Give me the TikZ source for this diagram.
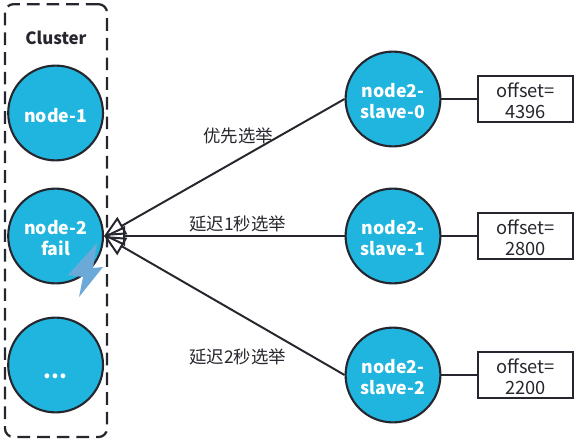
\documentclass[tikz,border=0pt]{standalone}
\usepackage{fontspec}
\setmainfont{Noto Sans CJK SC}
\usepackage{tikz}
\usetikzlibrary{arrows.meta}
\definecolor{nodeblue}{HTML}{20B5DE}
\definecolor{linedark}{HTML}{26262E}
\definecolor{boltblue}{HTML}{6BAAD8}
\tikzset{
    circ/.style={circle, draw=linedark, line width=1.5pt, fill=nodeblue, minimum size=2.37cm, inner sep=0pt, align=center, text=white, font=\fontsize{12.6}{15.5}\bfseries\selectfont},
    offs/.style={rectangle, draw=linedark, line width=1.4pt, fill=white, minimum width=2.375cm, minimum height=1.15cm, inner sep=0pt, align=center, text=linedark, font=\fontsize{13}{15}\selectfont},
    lab/.style={text=linedark, font=\fontsize{12.4}{14}\selectfont},
    conn/.style={draw=linedark, line width=1.4pt},
    vote/.style={conn, -{Triangle[open, length=15pt, width=14pt, line width=1.4pt]}}
}
\begin{document}
\begin{tikzpicture}
    \useasboundingbox (0, 0) rectangle (14.5, 11.075);
    \fill[white] (0, 0) rectangle (14.5, 11.075);

    % cluster frame
    \node[draw=linedark, line width=1.6pt, dash pattern=on 9pt off 5pt, rounded corners=6pt, minimum width=2.55cm, minimum height=10.82cm, inner sep=0pt] at (1.4, 5.56) (frame) {};
    \node[text=linedark, font=\fontsize{12}{14}\bfseries\selectfont] at (1.4, 10.12) (title) {Cluster};

    % left column
    \node[circ] at (1.39, 8.25) (n1) {\rule{0pt}{13pt}node-1};
    \node[circ] at (1.39, 5.175) (n2) {\rule{0pt}{13pt}node-2\\fail};
    \node[circ] at (1.39, 1.95) (n3) {\rule{0pt}{20pt}\fontsize{16}{16}\selectfont ...};

    % bolt
    \fill[boltblue] (2.425, 5.0) -- (1.7, 4.2) -- (2.075, 4.15) -- (1.975, 3.65) -- (2.575, 4.4) -- (2.325, 4.375) -- cycle;

    % right column
    \node[circ] at (9.825, 8.6) (s0) {\rule{0pt}{13pt}node2-\\slave-0};
    \node[circ] at (9.825, 5.175) (s1) {\rule{0pt}{13pt}node2-\\slave-1};
    \node[circ] at (9.825, 1.7) (s2) {\rule{0pt}{13pt}node2-\\slave-2};

    % offset boxes
    \node[offs] at (13.14, 8.6) (o0) {\rule{0pt}{12.5pt}offset=\\4396};
    \node[offs] at (13.14, 5.175) (o1) {\rule{0pt}{12.5pt}offset=\\2800};
    \node[offs] at (13.14, 1.7) (o2) {\rule{0pt}{12.5pt}offset=\\2200};
    \draw[conn] (s0) -- (o0);
    \draw[conn] (s1) -- (o1);
    \draw[conn] (s2) -- (o2);

    % votes
    \draw[vote] (s0.west) -- (n2.east);
    \draw[vote] (s2.west) -- (n2.east);
    \draw[vote] (s1.west) -- (n2.east);

    % labels
    \node[lab] at (5.95, 7.68) (l0) {优先选举};
    \node[lab] at (5.94, 5.48) (l1) {延迟1秒选举};
    \node[lab] at (5.94, 2.16) (l2) {延迟2秒选举};
\end{tikzpicture}
\end{document}
